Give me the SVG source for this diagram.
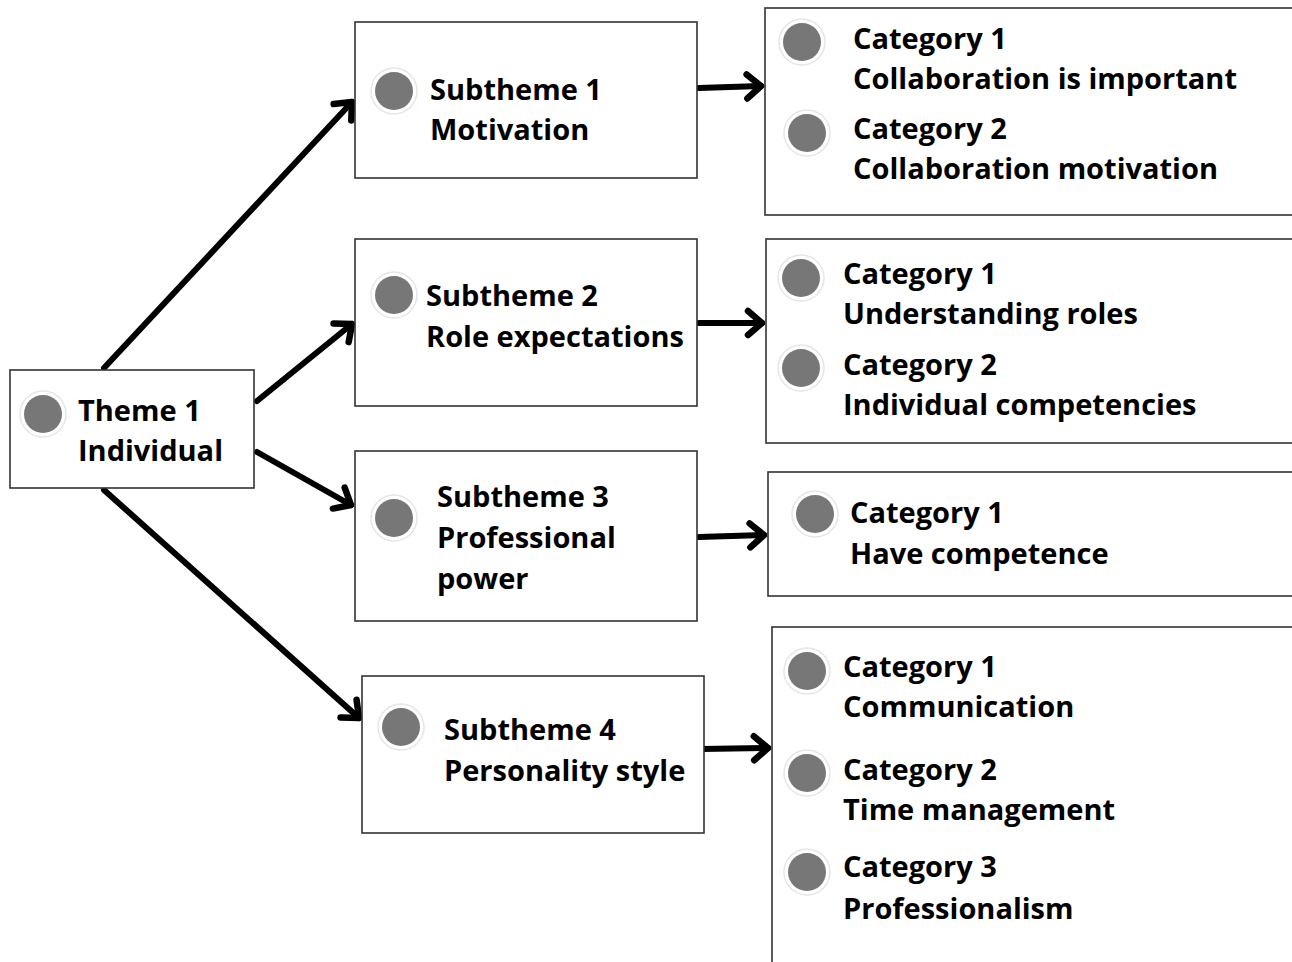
<svg xmlns="http://www.w3.org/2000/svg" width="1292" height="962" viewBox="0 0 1292 962">
  <style>
    .box { fill: #ffffff; stroke: #333333; stroke-width: 1.6; }
    .dot { fill: #777777; }
    .halo { fill: #ffffff; stroke: #e6e6e6; stroke-width: 1.5; }
    .lbl { font-family: "Open Sans", "Noto Sans", "DejaVu Sans", sans-serif; font-weight: 700; font-size: 29px; fill: #000000; }
    .edge { stroke: #000000; stroke-width: 6; stroke-linecap: round; fill: none; marker-end: url(#chev); }
  </style>
  <defs>
    <marker id="chev" viewBox="-20 -16 24 32" markerWidth="24" markerHeight="32" refX="0" refY="0" orient="auto" markerUnits="userSpaceOnUse">
      <path d="M-14,-12 L0,0 L-14,12" fill="none" stroke="#000" stroke-width="6.5" stroke-linecap="round" stroke-linejoin="round"/>
    </marker>
    <g id="bullet">
      <circle class="halo" r="23"/>
      <circle class="dot" r="19"/>
    </g>
  </defs>
  <rect width="1292" height="962" fill="#ffffff"/>

  <g id="connectors">
    <line class="edge" x1="104" y1="368" x2="352" y2="102"/>
    <line class="edge" x1="257" y1="401" x2="352" y2="324"/>
    <line class="edge" x1="257" y1="452" x2="351" y2="505"/>
    <line class="edge" x1="104" y1="490" x2="359" y2="718"/>
    <line class="edge" x1="699" y1="88" x2="761" y2="86"/>
    <line class="edge" x1="699" y1="323" x2="762" y2="323"/>
    <line class="edge" x1="699" y1="537" x2="764" y2="535"/>
    <line class="edge" x1="701" y1="749" x2="768" y2="748"/>
  </g>

  <g id="theme1">
    <rect class="box" x="10" y="370" width="244" height="118"/>
    <use href="#bullet" x="43" y="414"/>
    <text class="lbl" x="78" y="421">Theme 1</text>
    <text class="lbl" x="78" y="461">Individual</text>
  </g>

  <g id="subtheme1">
    <rect class="box" x="355" y="22" width="342" height="156"/>
    <use href="#bullet" x="394" y="91"/>
    <text class="lbl" x="430" y="100">Subtheme 1</text>
    <text class="lbl" x="430" y="140">Motivation</text>
  </g>

  <g id="subtheme2">
    <rect class="box" x="355" y="239" width="342" height="167"/>
    <use href="#bullet" x="394" y="295"/>
    <text class="lbl" x="426" y="306">Subtheme 2</text>
    <text class="lbl" x="426" y="347">Role expectations</text>
  </g>

  <g id="subtheme3">
    <rect class="box" x="355" y="451" width="342" height="170"/>
    <use href="#bullet" x="394" y="518"/>
    <text class="lbl" x="437" y="507">Subtheme 3</text>
    <text class="lbl" x="437" y="548">Professional</text>
    <text class="lbl" x="437" y="589">power</text>
  </g>

  <g id="subtheme4">
    <rect class="box" x="362" y="676" width="342" height="157"/>
    <use href="#bullet" x="401" y="727"/>
    <text class="lbl" x="444" y="740">Subtheme 4</text>
    <text class="lbl" x="444" y="781">Personality style</text>
  </g>

  <g id="categories1">
    <rect class="box" x="765" y="8" width="540" height="207"/>
    <use href="#bullet" x="802" y="42"/>
    <text class="lbl" x="853" y="49">Category 1</text>
    <text class="lbl" x="853" y="89">Collaboration is important</text>
    <use href="#bullet" x="807" y="133"/>
    <text class="lbl" x="853" y="139">Category 2</text>
    <text class="lbl" x="853" y="179">Collaboration motivation</text>
  </g>

  <g id="categories2">
    <rect class="box" x="766" y="239" width="540" height="204"/>
    <use href="#bullet" x="801" y="278"/>
    <text class="lbl" x="843" y="284">Category 1</text>
    <text class="lbl" x="843" y="324">Understanding roles</text>
    <use href="#bullet" x="801" y="368"/>
    <text class="lbl" x="843" y="375">Category 2</text>
    <text class="lbl" x="843" y="415">Individual competencies</text>
  </g>

  <g id="categories3">
    <rect class="box" x="768" y="472" width="540" height="124"/>
    <use href="#bullet" x="815" y="514"/>
    <text class="lbl" x="850" y="523">Category 1</text>
    <text class="lbl" x="850" y="564">Have competence</text>
  </g>

  <g id="categories4">
    <rect class="box" x="772" y="627" width="540" height="350"/>
    <use href="#bullet" x="807" y="671"/>
    <text class="lbl" x="843" y="677">Category 1</text>
    <text class="lbl" x="843" y="717">Communication</text>
    <use href="#bullet" x="807" y="773"/>
    <text class="lbl" x="843" y="780">Category 2</text>
    <text class="lbl" x="843" y="820">Time management</text>
    <use href="#bullet" x="807" y="872"/>
    <text class="lbl" x="843" y="877">Category 3</text>
    <text class="lbl" x="843" y="919">Professionalism</text>
  </g>
</svg>
